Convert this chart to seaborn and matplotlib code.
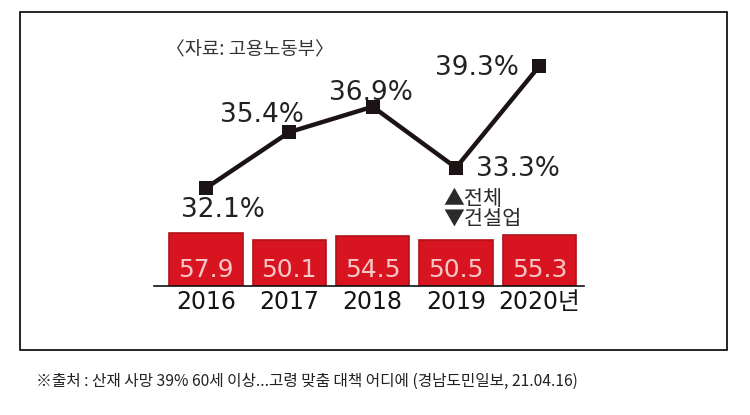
import matplotlib
matplotlib.use("Agg")
import matplotlib.pyplot as plt
import seaborn as sns
import numpy as np
import pandas as pd
from matplotlib.patches import Rectangle

sns.set_theme(style="white")
plt.rcParams['font.family'] = ['DejaVu Sans', 'Noto Sans CJK KR']

years = ["2016", "2017", "2018", "2019", "2020"]
year_labels = ["2016", "2017", "2018", "2019", "2020년"]
total_share = [32.1, 35.4, 36.9, 33.3, 39.3]        # line (%)
construction = [57.9, 50.1, 54.5, 50.5, 55.3]      # bars
source_text = "〈자료: 고용노동부〉"
legend_up = "▲전체"
legend_down = "▼건설업"
caption = "※출처 : 산재 사망 39% 60세 이상...고령 맞춤 대책 어디에 (경남도민일보, 21.04.16)"

W, H = 750, 415
fig = plt.figure(figsize=(7.5, 4.15), dpi=100)
fig.patch.set_facecolor("white")

# frame
fig.add_artist(Rectangle((20 / W, 1 - 350 / H), 707 / W, 338 / H,
                         transform=fig.transFigure, fill=False,
                         edgecolor="black", linewidth=1.2))

left = 153.5 / W
width = 430 / W
xlim = (-0.63, 4.53)

# bar axes
ax_b = fig.add_axes([left, 1 - 286 / H, width, 64 / H])
df_b = pd.DataFrame({"year": years, "value": construction})
sns.barplot(data=df_b, x="year", y="value", ax=ax_b, color="#d7141f",
            width=0.88, edgecolor="#b0121a", linewidth=1.2, saturation=1)
ax_b.set_xlim(*xlim)
ax_b.set_ylim(0, 70)
for s in ["top", "right", "left"]:
    ax_b.spines[s].set_visible(False)
ax_b.spines["bottom"].set_color("#111111")
ax_b.spines["bottom"].set_linewidth(1.2)
ax_b.set_yticks([])
ax_b.set_xlabel("")
ax_b.set_ylabel("")
ax_b.set_xticks(range(len(years)))
ax_b.set_xticklabels(year_labels, fontsize=17, color="#151515")
ax_b.tick_params(axis="x", length=0, pad=3)
ax_b.patch.set_alpha(0)
for i, v in enumerate(construction):
    ax_b.annotate(f"{v}", (i, 0), xytext=(0, 16), textcoords="offset pixels",
                  ha="center", va="center", fontsize=18, color="#f8c6c6")

# line axes
ax_l = fig.add_axes([left, 1 - 223.6 / H, width, 169.4 / H])
df_l = pd.DataFrame({"x": np.arange(len(years)), "value": total_share})
sns.lineplot(data=df_l, x="x", y="value", ax=ax_l, color="#1c1414",
             linewidth=3.2, marker="s", markersize=10, markeredgewidth=0)
ax_l.set_xlim(*xlim)
ax_l.set_ylim(30, 40)
ax_l.axis("off")
offsets = [(17, -22), (-27, 17), (-2, 14), (62, -1), (-62, -2)]
for i, (v, off) in enumerate(zip(total_share, offsets)):
    ax_l.annotate(f"{v}%", (i, v), xytext=off, textcoords="offset pixels",
                  ha="center", va="center", fontsize=19, color="#222222")

fig.text(250 / W, 1 - 50 / H, source_text, ha="center", va="center",
         fontsize=13.5, color="#333333", family=["Noto Sans CJK KR", "DejaVu Sans"])
fig.text(443 / W, 1 - 199 / H, legend_up, ha="left", va="center",
         fontsize=15, color="#2a2a2a", family=["Noto Sans CJK KR", "DejaVu Sans"])
fig.text(443 / W, 1 - 219 / H, legend_down, ha="left", va="center",
         fontsize=15, color="#2a2a2a", family=["Noto Sans CJK KR", "DejaVu Sans"])
fig.text(36 / W, 1 - 381 / H, caption, ha="left", va="center",
         fontsize=11.3, color="#222222", family=["Noto Sans CJK KR", "DejaVu Sans"])

fig.savefig("out.png", dpi=100, facecolor="white")
